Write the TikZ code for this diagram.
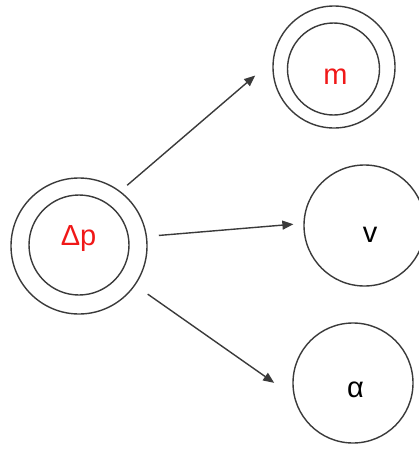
\documentclass[tikz,border=0pt]{standalone}
\usepackage{fontspec}
\setmainfont{Liberation Sans}
\usetikzlibrary{arrows.meta}
\definecolor{ln}{HTML}{3A3A3A}
\definecolor{rd}{HTML}{F01818}
\begin{document}
\begin{tikzpicture}[x=1pt,y=-1pt,
  ring/.style={draw=ln,line width=1.4pt,circle,inner sep=0pt},
  lbl/.style={anchor=base,inner sep=0pt,font=\fontsize{29}{34}\selectfont},
  conn/.style={draw=ln,line width=1.4pt,-{Triangle[length=11pt,width=9pt]}}]
\useasboundingbox (0,0) rectangle (418,450);
\node[ring,minimum size=136pt] (dp) at (79,246) {};
\node[ring,minimum size=100pt] (dpi) at (79,245) {};
\node[ring,minimum size=122pt] (m) at (334,67) {};
\node[ring,minimum size=92pt] (mi) at (333.5,69) {};
\node[ring,minimum size=121pt] (v) at (364.5,225.5) {};
\node[ring,minimum size=120pt] (a) at (353,383) {};
\node[lbl,text=rd] (dpt) at (78.5,245) {Δp};
\node[lbl,text=rd] (mt) at (335.5,84) {m};
\node[lbl] (vt) at (370,82+160) {v};
\node[lbl] (at) at (355.5,397) {α};
\draw[conn,shorten <=9pt,shorten >=23pt] (dp.53.1) -- (m.174.4);
\draw[conn,shorten <=11.8pt,shorten >=10pt] (dp.8.5) -- (v.178.9);
\draw[conn,shorten <=15.2pt,shorten >=24pt] (dp.-35.3) -- (a.193.1);
\end{tikzpicture}
\end{document}
